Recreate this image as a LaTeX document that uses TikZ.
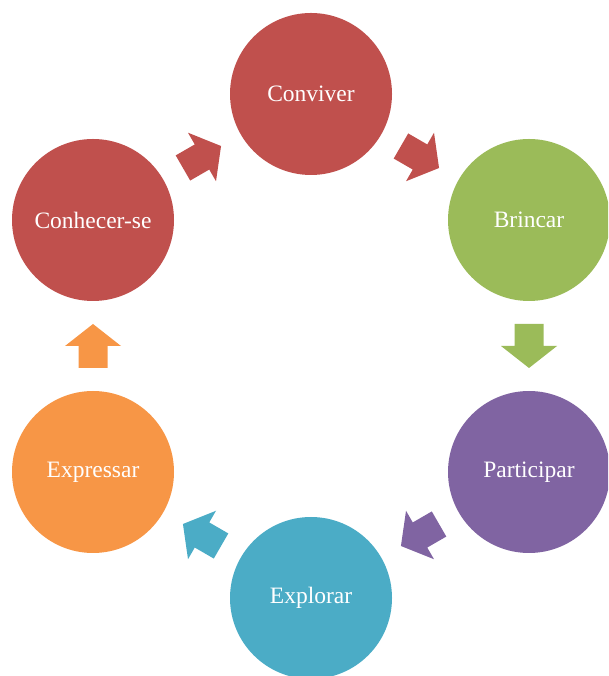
\documentclass[tikz,border=0pt]{standalone}
\usepackage{fontspec}
\setmainfont{Liberation Serif}
\usetikzlibrary{calc}
\definecolor{cred}{HTML}{C0504D}
\definecolor{cgreen}{HTML}{9BBB59}
\definecolor{cpurple}{HTML}{8064A2}
\definecolor{cteal}{HTML}{4BACC6}
\definecolor{corange}{HTML}{F79646}
\tikzset{
  circ/.style={circle, minimum size=162pt, inner sep=0pt, text=white,
    font=\fontsize{23.5}{28}\selectfont},
  blockarrow/.pic={\path[pic actions] (-22,-14.5) -- (0,-14.5) -- (0,-28) -- (22,0) -- (0,28) -- (0,14.5) -- (-22,14.5) -- cycle;}
}
\begin{document}
\begin{tikzpicture}[x=1pt,y=1pt]
\useasboundingbox (0,0) rectangle (608,676);
\clip (0,0) rectangle (608,676);
\node[circ, fill=cred] (c1) at (311,582) {Conviver};
\node[circ, fill=cgreen] (c2) at (529,456) {Brincar};
\node[circ, fill=cpurple] (c3) at (529,204) {Participar};
\node[circ, fill=cteal] (c4) at (311,78) {Explorar};
\node[circ, fill=corange] (c5) at (93,204) {Expressar};
\node[circ, fill=cred] (c6) at (93,456) {Conhecer-se};
\pic[fill=cred, rotate=30] at ($(c6)!0.5!(c1)$) {blockarrow};
\pic[fill=cred, rotate=-30] at ($(c1)!0.5!(c2)$) {blockarrow};
\pic[fill=cgreen, rotate=-90] at ($(c2)!0.5!(c3)$) {blockarrow};
\pic[fill=cpurple, rotate=210] at ($(c3)!0.5!(c4)$) {blockarrow};
\pic[fill=cteal, rotate=150] at ($(c4)!0.5!(c5)$) {blockarrow};
\pic[fill=corange, rotate=90] at ($(c5)!0.5!(c6)$) {blockarrow};
\end{tikzpicture}
\end{document}
